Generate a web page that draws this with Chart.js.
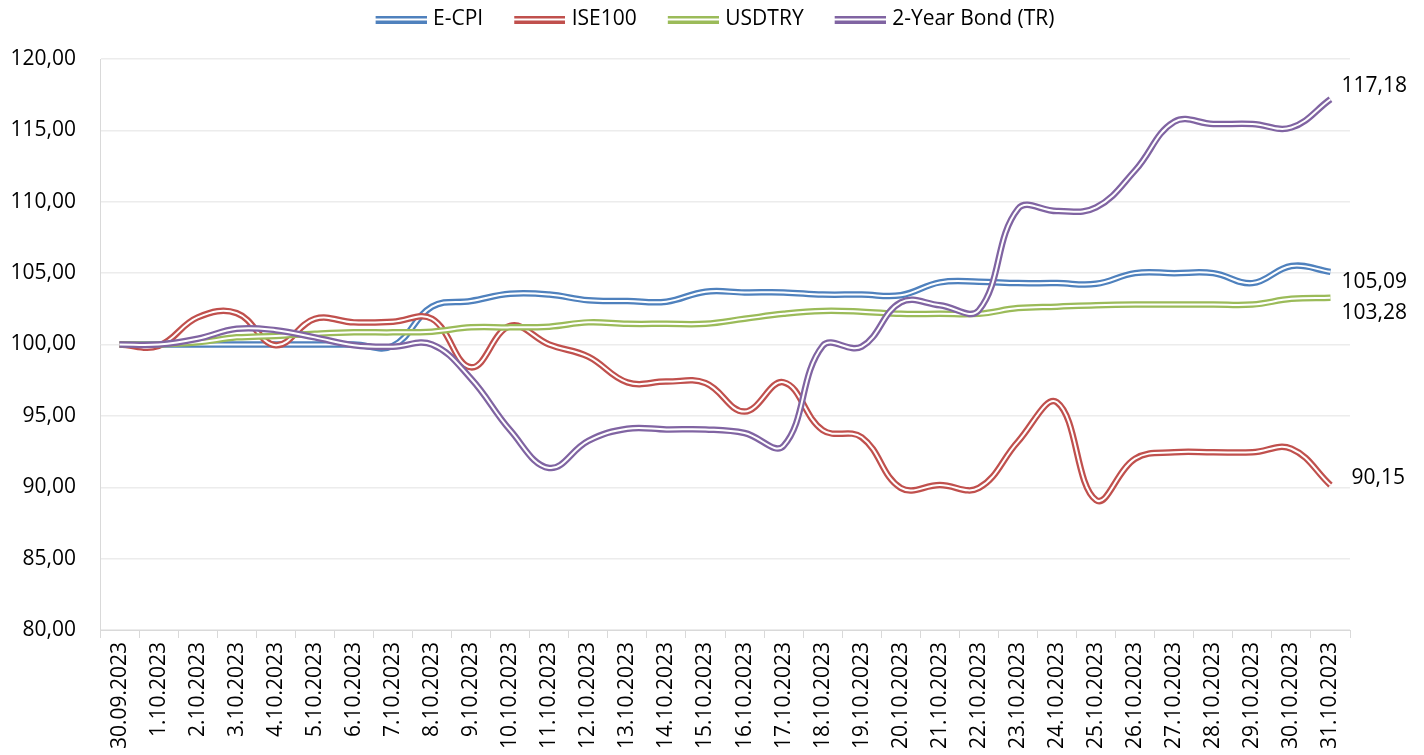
<!DOCTYPE html>
<html>
<head>
<meta charset="utf-8">
<script src="https://cdn.jsdelivr.net/npm/chart.js@4.4.1/dist/chart.umd.min.js"></script>
<style>
    html, body { margin: 0; padding: 0; background: #fff; }
    #wrap { width: 1424px; height: 755px; }
</style>
</head>
<body>
<div id="wrap"><canvas id="indexChart"></canvas></div>
<script>
const dates = [
    "30.09.2023", "1.10.2023", "2.10.2023", "3.10.2023", "4.10.2023", "5.10.2023",
    "6.10.2023", "7.10.2023", "8.10.2023", "9.10.2023", "10.10.2023", "11.10.2023",
    "12.10.2023", "13.10.2023", "14.10.2023", "15.10.2023", "16.10.2023", "17.10.2023",
    "18.10.2023", "19.10.2023", "20.10.2023", "21.10.2023", "22.10.2023", "23.10.2023",
    "24.10.2023", "25.10.2023", "26.10.2023", "27.10.2023", "28.10.2023", "29.10.2023",
    "30.10.2023", "31.10.2023"
]

const ecpi = [100.0, 100.0, 100.0, 100.0, 100.0, 100.0, 100.0, 99.9, 102.65, 103.05, 103.55, 103.5,
    103.1, 103.05, 103.0, 103.7, 103.65, 103.65, 103.5, 103.5, 103.45, 104.35, 104.4, 104.3,
    104.3, 104.25, 105.0, 105.0, 105.0, 104.3, 105.5, 105.09]

const ise100 = [100.0, 99.9, 101.9, 102.2, 99.95, 101.8, 101.55, 101.6, 101.8, 98.4, 101.3, 100.0,
    99.15, 97.35, 97.4, 97.3, 95.3, 97.35, 94.0, 93.5, 89.95, 90.15, 89.95, 93.2,
    95.95, 89.1, 92.0, 92.45, 92.45, 92.45, 92.7, 90.15]

const usdtry = [100.0, 100.0, 100.15, 100.5, 100.6, 100.75, 100.85, 100.85, 100.9, 101.2, 101.2, 101.25,
    101.55, 101.45, 101.45, 101.45, 101.8, 102.15, 102.35, 102.3, 102.15, 102.15, 102.15, 102.55,
    102.65, 102.75, 102.8, 102.8, 102.8, 102.8, 103.2, 103.28]

const bond2y = [100.0, 100.0, 100.4, 101.1, 101.0, 100.5, 99.95, 99.85, 100.0, 97.6, 94.0, 91.35,
    93.25, 94.1, 94.05, 94.05, 93.8, 92.9, 99.9, 99.85, 102.95, 102.75, 102.4, 109.5,
    109.35, 109.6, 112.2, 115.6, 115.45, 115.45, 115.2, 117.18]

const yTicks = [80, 85, 90, 95, 100, 105, 110, 115, 120]

const seriesList = [
    { label: "E-CPI", data: ecpi, color: "#4F81BD" },
    { label: "ISE100", data: ise100, color: "#C0504D" },
    { label: "USDTRY", data: usdtry, color: "#9BBB59" },
    { label: "2-Year Bond (TR)", data: bond2y, color: "#8064A2" }
]

// where each end-of-line value label sits relative to the last point
const endLabelShift = {
    "E-CPI": [11, 10],
    "ISE100": [21, -7],
    "USDTRY": [11, 15],
    "2-Year Bond (TR)": [11, -13]
}

const FONT = "'Open Sans', 'Noto Sans', sans-serif"
const ICON_GAP = 26      // blank space left of each legend swatch, spaces the items apart
const LEGEND_SHIFT = 29  // legend is centred a bit right of the canvas middle

function fmt(v) {
    return v.toFixed(2).replace(".", ",")
}

function legendIcon(color) {
    const c = document.createElement("canvas")
    c.width = 51 + ICON_GAP
    c.height = 8
    const g = c.getContext("2d")
    g.fillStyle = color
    g.fillRect(ICON_GAP, 0, 51, 8)
    g.fillStyle = "#fff"
    g.fillRect(ICON_GAP, 3, 51, 2)
    return c
}

// Excel-style compound line: a wide coloured stroke with a thin white core on top
const datasets = []
seriesList.forEach((s, i) => {
    const base = (seriesList.length - 1 - i) * 2
    datasets.push({
        label: s.label,
        data: s.data,
        borderColor: s.color,
        backgroundColor: s.color,
        borderWidth: 6.5,
        pointRadius: 0,
        tension: 0.4,
        order: base + 1,
        icon: legendIcon(s.color),
        outer: true
    })
    datasets.push({
        label: s.label + " core",
        data: s.data,
        borderColor: "#ffffff",
        borderWidth: 2,
        pointRadius: 0,
        tension: 0.4,
        order: base,
        outer: false
    })
})

// legend sits high, with a gap under it before the plot
const legendGap = {
    id: "legendGap",
    beforeInit(chart) {
        const fit = chart.legend.fit
        chart.legend.fit = function () {
            fit.call(this)
            this.height += 19
        }
    },
    afterLayout(chart) {
        chart.legend.right += LEGEND_SHIFT * 2
        chart.legend.width += LEGEND_SHIFT * 2
    }
}

const endLabels = {
    id: "endLabels",
    afterDatasetsDraw(chart) {
        const ctx = chart.ctx
        ctx.save()
        ctx.font = "21px " + FONT
        ctx.fillStyle = "#000"
        ctx.textAlign = "left"
        ctx.textBaseline = "middle"
        chart.data.datasets.forEach((ds, i) => {
            if (!ds.outer) return
            const meta = chart.getDatasetMeta(i)
            const pt = meta.data[meta.data.length - 1]
            const shift = endLabelShift[ds.label]
            ctx.fillText(fmt(ds.data[ds.data.length - 1]), pt.x + shift[0], pt.y + shift[1])
        })
        ctx.restore()
    }
}

new Chart(document.getElementById("indexChart"), {
    type: "line",
    data: {
        labels: dates,
        datasets: datasets
    },
    plugins: [legendGap, endLabels],
    options: {
        responsive: true,
        maintainAspectRatio: false,
        animation: false,
        layout: {
            padding: { top: 0, right: 74, left: 0, bottom: 0 }
        },
        plugins: {
            legend: {
                position: "top",
                labels: {
                    usePointStyle: true,
                    pointStyleWidth: 51 + ICON_GAP - 8,
                    padding: 9,
                    color: "#000",
                    font: { family: FONT, size: 21 },
                    filter: (item, data) => data.datasets[item.datasetIndex].outer,
                    generateLabels(chart) {
                        return chart.data.datasets.map((ds, i) => ({
                            text: ds.label,
                            pointStyle: ds.icon,
                            fillStyle: ds.borderColor,
                            strokeStyle: ds.borderColor,
                            lineWidth: 0,
                            hidden: false,
                            datasetIndex: i
                        }))
                    }
                }
            },
            tooltip: { enabled: false }
        },
        scales: {
            x: {
                offset: true,
                afterFit(scale) { scale.height = 125 },
                grid: {
                    offset: true,
                    drawOnChartArea: false,
                    drawTicks: true,
                    tickLength: 8,
                    color: "#d9d9d9"
                },
                border: { color: "#d9d9d9" },
                ticks: {
                    autoSkip: false,
                    maxRotation: 90,
                    minRotation: 90,
                    padding: 4,
                    color: "#000",
                    font: { family: FONT, size: 21 }
                }
            },
            y: {
                min: 80,
                max: 120,
                afterFit(scale) { scale.width = 100 },
                afterBuildTicks(scale) {
                    scale.ticks = yTicks.map(v => ({ value: v }))
                },
                grid: {
                    color: "#ececec",
                    lineWidth: 1.5,
                    drawTicks: false
                },
                border: { color: "#d9d9d9" },
                ticks: {
                    padding: 24,
                    color: "#000",
                    font: { family: FONT, size: 21 },
                    callback: v => fmt(v)
                }
            }
        }
    }
})
</script>
</body>
</html>
